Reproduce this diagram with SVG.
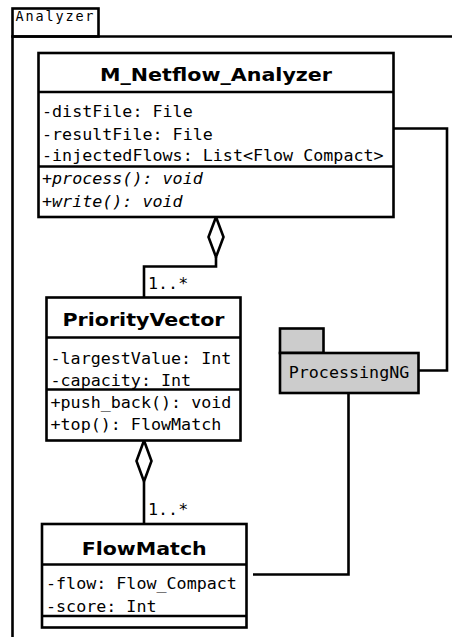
<svg xmlns="http://www.w3.org/2000/svg" width="452" height="637" viewBox="0 0 452 637">
<style>
.box{fill:#fff;stroke:#000;stroke-width:2.6}
.pkg{fill:#cccccc;stroke:#000;stroke-width:2.6}
.ln{fill:none;stroke:#000;stroke-width:2.6}
.dia{fill:#fff;stroke:#000;stroke-width:2.6;stroke-linejoin:miter}
.t{font-family:"DejaVu Sans","Liberation Sans",sans-serif;font-weight:bold;font-size:18px;text-anchor:middle;fill:#000}
.m{font-family:"DejaVu Sans Mono","Liberation Mono",monospace;font-size:16.7px;fill:#000}
.s{font-family:"DejaVu Sans Mono","Liberation Mono",monospace;font-size:13.5px;fill:#000}
.i{font-style:italic}
</style>
<rect width="452" height="637" fill="#fff"/>
<g id="frame">
<rect class="box" x="12.5" y="8.5" width="86" height="28"/>
<path class="ln" d="M12.5,637 V36.5 H452"/>
<text class="s" x="15.5" y="21" textLength="78" lengthAdjust="spacing">Analyzer</text>
</g>
<g id="connectors">
<path class="ln" d="M393.5,128.5 H447 V370.5 H418.5"/>
<path class="ln" d="M348.5,393 V574.5 H253"/>
<path class="ln" d="M216,257 V266.5 H144 V297.5"/>
<path class="ln" d="M144,481.5 V524"/>
<path class="dia" d="M216,217 L223.5,237 L216,257 L208.5,237 Z"/>
<path class="dia" d="M144,440.5 L151.5,461 L144,481.5 L136.5,461 Z"/>
<text class="m" x="148" y="289">1..*</text>
<text class="m" x="148" y="515">1..*</text>
</g>
<g id="M_Netflow_Analyzer">
<rect class="box" x="38.5" y="53" width="355" height="164"/>
<path class="ln" d="M38.5,92 H393.5 M38.5,166.5 H393.5"/>
<text class="t" x="216" y="81" textLength="232" lengthAdjust="spacingAndGlyphs">M_Netflow_Analyzer</text>
<text class="m" x="42" y="116.5">-distFile: File</text>
<text class="m" x="42" y="139.5">-resultFile: File</text>
<text class="m" x="42" y="161">-injectedFlows: List&lt;Flow Compact&gt;</text>
<text class="m i" x="42" y="183.5">+process(): void</text>
<text class="m i" x="42" y="206.5">+write(): void</text>
</g>
<g id="PriorityVector">
<rect class="box" x="46.5" y="297.5" width="194" height="143"/>
<path class="ln" d="M46.5,337.5 H240.5 M46.5,389.5 H240.5"/>
<text class="t" x="143.5" y="326" textLength="162" lengthAdjust="spacingAndGlyphs">PriorityVector</text>
<text class="m" x="50.5" y="364">-largestValue: Int</text>
<text class="m" x="50.5" y="385.5">-capacity: Int</text>
<text class="m" x="50.5" y="407.5">+push_back(): void</text>
<text class="m" x="50.5" y="429.5">+top(): FlowMatch</text>
</g>
<g id="FlowMatch">
<rect class="box" x="42" y="524" width="204.5" height="103.5"/>
<path class="ln" d="M42,564.5 H246.5 M42,616 H246.5"/>
<text class="t" x="144.2" y="555" textLength="125" lengthAdjust="spacingAndGlyphs">FlowMatch</text>
<text class="m" x="46" y="589">-flow: Flow_Compact</text>
<text class="m" x="46" y="611.5">-score: Int</text>
</g>
<g id="ProcessingNG">
<rect class="pkg" x="280" y="328.5" width="43.5" height="24.5"/>
<rect class="pkg" x="280" y="353" width="138.5" height="40"/>
<text class="m" x="349" y="377.5" text-anchor="middle">ProcessingNG</text>
</g>
</svg>
